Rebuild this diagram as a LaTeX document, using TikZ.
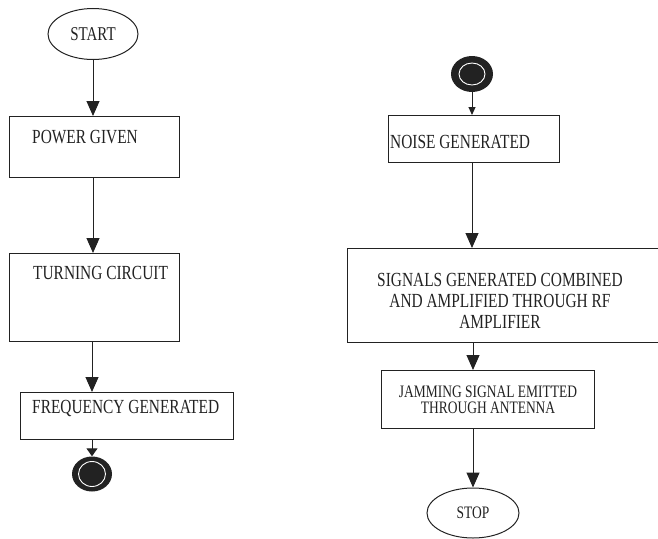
\documentclass[tikz,border=0pt]{standalone}
\usepackage{fontspec}
\setmainfont{Liberation Serif}[FakeStretch=0.77]
\usetikzlibrary{positioning,arrows.meta,shapes.geometric}
\definecolor{ink}{HTML}{222222}

\begin{document}
\begin{tikzpicture}[x=1pt, y=-1pt,
  box/.style={draw=ink, line width=1.1pt, inner sep=0, anchor=north west},
  lbl/.style={inner sep=0, font=\fontsize{20}{21}\selectfont, text=ink},
  term/.style={ellipse, draw=ink, line width=1pt, inner sep=0,
               font=\fontsize{19.5}{20}\selectfont, text=ink},
  dot/.style={ellipse, fill=ink, inner sep=0},
  arr/.style={-{Triangle[length=15pt, width=13pt]}, line width=1pt, draw=ink},
  arrsm/.style={-{Triangle[length=8pt, width=7pt]}, line width=1pt, draw=ink}]
\useasboundingbox (0,0) rectangle (658,538);
\clip (0,0) rectangle (658,538);
% left column
\node[term, minimum width=90, minimum height=51] (start) at (93,34) {START};
\node[box, minimum width=170, minimum height=61] (power) at (9,116) {};
\node[lbl, anchor=west] (power-t) at (32,137) {POWER GIVEN};
\node[box, minimum width=170, minimum height=88] (turn) at (9,253) {};
\node[lbl, anchor=west] (turn-t) at (33,273) {TURNING CIRCUIT};
\node[box, minimum width=213, minimum height=47] (freq) at (20,392) {};
\node[lbl, anchor=west] (freq-t) at (32,408) {FREQUENCY GENERATED};
\node[dot, minimum width=40, minimum height=35] (end) at (92,474) {};
\draw[white, line width=0.9pt] (end.center) ellipse (13.5 and 12.5);
\draw[arr] (start.south) -- (start.south |- power.north);
\draw[arr] (start.south |- power.south) -- (start.south |- turn.north);
\draw[arr] (end.north |- turn.south) -- (end.north |- freq.north);
\draw[arrsm, -{Triangle[length=8pt, width=11pt]}] (end.north |- freq.south) -- (end.north);
% right column
\node[dot, minimum width=42, minimum height=36] (begin) at (472,74) {};
\draw[white, line width=0.9pt] (begin.center) ellipse (13 and 11);
\node[box, minimum width=171, minimum height=47] (noise) at (388,115) {};
\node[lbl, anchor=west] (noise-t) at (390,142) {NOISE GENERATED};
\node[box, minimum width=318, minimum height=94] (sig) at (347,248) {};
\node[lbl, align=center] (sig-t) at (500,301)
  {SIGNALS GENERATED COMBINED\\AND AMPLIFIED THROUGH RF\\AMPLIFIER};
\node[box, minimum width=213, minimum height=58, align=center,
      font=\fontsize{17.5}{16}\selectfont, text=ink] (jam) at (381,370)
  {JAMMING SIGNAL EMITTED\\THROUGH ANTENNA};
\node[term, minimum width=92, minimum height=50,
      font=\fontsize{17.5}{19}\selectfont] (stop) at (473,513) {STOP};
\draw[arrsm] (begin.south) -- (begin.south |- noise.north);
\draw[arr] (begin.south |- noise.south) -- (begin.south |- sig.north);
\draw[arr] (stop.north |- sig.south) -- (stop.north |- jam.north);
\draw[arr] (jam.south -| stop.north) -- (stop.north);
\end{tikzpicture}
\end{document}
